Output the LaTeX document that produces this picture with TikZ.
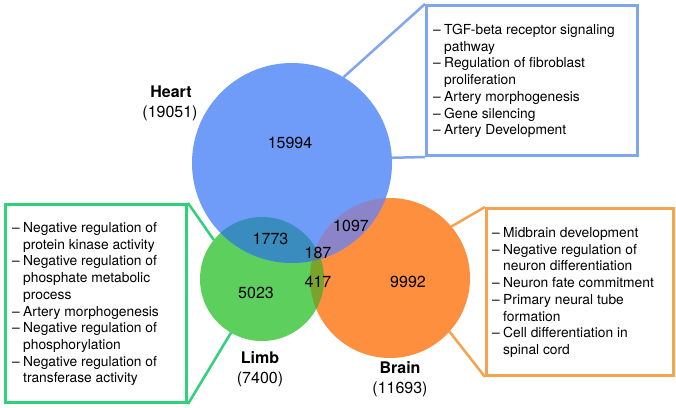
\documentclass[tikz,border=0pt]{standalone}
\usepackage{fontspec}
\setmainfont{TeX Gyre Heros}
\definecolor{heartc}{HTML}{6E9CF8}
\definecolor{limbc}{HTML}{5CCF5C}
\definecolor{brainc}{HTML}{FD8F3F}
\definecolor{hlc}{HTML}{3A8CBF}
\definecolor{hbc}{HTML}{8C84C8}
\definecolor{lbc}{HTML}{7AA22C}
\definecolor{hlbc}{HTML}{5A80A0}
\definecolor{hline}{HTML}{80A6F0}
\definecolor{lline}{HTML}{2FD27A}
\definecolor{bline}{HTML}{F6A24E}
\newcommand\itm[1]{\hbox{\makebox[11pt][l]{–}#1}}
\newcommand\cnt[1]{\hbox{\hspace*{11pt}#1}}
\begin{document}
\begin{tikzpicture}[x=1pt,y=-1pt,
  venn/.style={circle, inner sep=0pt, outer sep=0pt},
  boxframe/.style={draw, line width=3pt, fill=white, inner sep=0pt, anchor=north west},
  conn/.style={line width=2.5pt},
  boxtext/.style={anchor=base west, inner sep=0pt, font=\fontsize{13.8}{16.7}\selectfont},
  num/.style={inner sep=0pt, font=\fontsize{16}{19}\selectfont},
  setname/.style={anchor=base, inner sep=0pt, font=\fontsize{16}{19}\selectfont\bfseries},
  setcount/.style={anchor=base, inner sep=0pt, font=\fontsize{16}{19}\selectfont}]
\useasboundingbox (0,0) rectangle (676,407);
\fill[white] (0,0) rectangle (676,407);

% circles
\node[venn, minimum size=160pt, fill=brainc] (brain) at (390,278) {};
\node[venn, minimum size=124pt, fill=limbc] (limb) at (262,279) {};
\node[venn, minimum size=200pt, fill=heartc] (heart) at (292,163) {};

% overlaps
\begin{scope}
  \clip (heart.center) circle[radius=100pt];
  \fill[hlc] (limb.center) circle[radius=62pt];
\end{scope}
\begin{scope}
  \clip (heart.center) circle[radius=100pt];
  \fill[hbc] (brain.center) circle[radius=80pt];
\end{scope}
\begin{scope}
  \clip (limb.center) circle[radius=62pt];
  \fill[lbc] (brain.center) circle[radius=80pt];
\end{scope}
\begin{scope}
  \clip (heart.center) circle[radius=100pt];
  \clip (limb.center) circle[radius=62pt];
  \fill[hlbc] (brain.center) circle[radius=80pt];
\end{scope}

% boxes
\node[boxframe, draw=hline, minimum width=211pt, minimum height=150pt] (hbox) at (425,4) {};
\node[boxframe, draw=lline, minimum width=181pt, minimum height=198pt] (lbox) at (4,203) {};
\node[boxframe, draw=bline, minimum width=187pt, minimum height=167pt] (bbox) at (485,207) {};

% connectors
\draw[conn, draw=hline] (heart.59) -- (hbox.north west);
\draw[conn, draw=hline] (heart.3) -- (hbox.south west);
\draw[conn, draw=lline] (limb.141) -- (lbox.north east);
\draw[conn, draw=lline] (limb.240) -- (lbox.south east);
\draw[conn, draw=bline] (brain.40) -- (bbox.north west);
\draw[conn, draw=bline] (brain.318) -- (bbox.south west);

% box texts
\node[boxtext] (htext) at (433,34.5) {\vtop{%
  \itm{TGF-beta receptor signaling}
  \cnt{pathway}
  \itm{Regulation of fibroblast}
  \cnt{proliferation}
  \itm{Artery morphogenesis}
  \itm{Gene silencing}
  \itm{Artery Development}}};
\node[boxtext] (ltext) at (12,232.5) {\vtop{%
  \itm{Negative regulation of}
  \cnt{protein kinase activity}
  \itm{Negative regulation of}
  \cnt{phosphate metabolic}
  \cnt{process}
  \itm{Artery morphogenesis}
  \itm{Negative regulation of}
  \cnt{phosphorylation}
  \itm{Negative regulation of}
  \cnt{transferase activity}}};
\node[boxtext] (btext) at (492,237.5) {\vtop{%
  \itm{Midbrain development}
  \itm{Negative regulation of}
  \cnt{neuron differentiation}
  \itm{Neuron fate commitment}
  \itm{Primary neural tube}
  \cnt{formation}
  \itm{Cell differentiation in}
  \cnt{spinal cord}}};

% region numbers
\node[num] (n15994) at (290,143) {15994};
\node[num] (n1773) at (270.5,239) {1773};
\node[num] (n187) at (318,253) {187};
\node[num] (n1097) at (351,226) {1097};
\node[num] (n417) at (318,281.5) {417};
\node[num] (n5023) at (256,293) {5023};
\node[num] (n9992) at (408,282) {9992};

% set labels
\node[setname] (heartname) at (171,97) {Heart};
\node[setcount] (heartcount) at (170,117) {(19051)};
\node[setname] (limbname) at (260,363) {Limb};
\node[setcount] (limbcount) at (260,383) {(7400)};
\node[setname] (brainname) at (400,373) {Brain};
\node[setcount] (braincount) at (400,393) {(11693)};
\end{tikzpicture}
\end{document}
